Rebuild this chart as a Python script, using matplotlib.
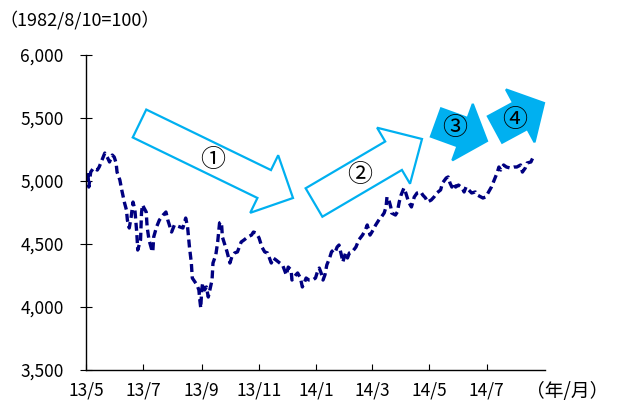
import numpy as np
import pandas as pd
import matplotlib
matplotlib.use("Agg")
import matplotlib.pyplot as plt
from matplotlib.patches import Polygon

plt.rcParams["font.family"] = ["Noto Sans CJK JP", "DejaVu Sans"]

# days after 2013/5/1 and index level
days = [2, 3, 5, 8, 12, 14, 17, 20, 23, 25, 28, 30, 32, 33, 36, 38, 41, 43, 44, 46,
        48, 50, 52, 54, 55, 58, 59, 60, 64, 65, 67, 70, 71, 72, 75, 78, 82, 85, 87, 91,
        94, 100, 103, 106, 108, 110, 112, 113, 118, 120, 121, 122, 123, 124, 126, 128, 130, 134, 135, 138,
        140, 142, 144, 145, 147, 150, 153, 155, 158, 161, 165, 168, 172, 176, 178, 181, 184, 187, 190, 193,
        197, 199, 202, 206, 209, 211, 213, 215, 218, 219, 223, 225, 228, 230, 232, 234, 237, 241, 244, 246,
        248, 250, 252, 254, 256, 259, 261, 263, 265, 267, 269, 272, 273, 276, 278, 280, 283, 287, 290, 294,
        297, 299, 302, 304, 308, 312, 314, 317, 319, 320, 322, 324, 325, 329, 331, 333, 335, 338, 340, 343,
        346, 349, 352, 356, 358, 361, 363, 367, 370, 373, 377, 379, 383, 385, 387, 389, 391, 393, 396, 400,
        402, 404, 407, 410, 414, 416, 420, 422, 425, 428, 431, 434, 437, 439, 441, 444, 447, 451, 455, 458,
        462, 464, 467, 469, 473, 475, 477]
index = [5063, 4952, 5071, 5103, 5087, 5111, 5167, 5222, 5183, 5151, 5206, 5190, 5143, 5071, 5008, 4929, 4825, 4770, 4690, 4627,
         4714, 4833, 4770, 4587, 4452, 4532, 4746, 4810, 4754, 4635, 4532, 4452, 4437, 4556, 4635, 4690, 4730, 4754, 4690, 4595,
         4651, 4635, 4627, 4706, 4635, 4476, 4349, 4230, 4175, 4135, 4056, 3992, 4135, 4190, 4135, 4159, 4079, 4214, 4349, 4413,
         4516, 4667, 4675, 4556, 4508, 4437, 4349, 4397, 4429, 4437, 4516, 4532, 4556, 4571, 4595, 4587, 4548, 4476, 4437, 4429,
         4349, 4389, 4373, 4349, 4333, 4294, 4254, 4317, 4294, 4214, 4254, 4270, 4230, 4159, 4190, 4230, 4214, 4214, 4230, 4278,
         4309, 4270, 4214, 4254, 4333, 4389, 4437, 4452, 4437, 4476, 4492, 4397, 4357, 4429, 4389, 4429, 4437, 4476, 4532, 4571,
         4611, 4651, 4571, 4595, 4651, 4698, 4714, 4746, 4794, 4873, 4849, 4794, 4746, 4730, 4754, 4833, 4889, 4944, 4905, 4833,
         4794, 4873, 4905, 4913, 4889, 4865, 4833, 4849, 4873, 4905, 4929, 4984, 5024, 5032, 4984, 4952, 4984, 4952, 4968, 4944,
         4913, 4952, 4929, 4905, 4913, 4889, 4873, 4865, 4873, 4913, 4952, 5008, 5063, 5111, 5087, 5127, 5111, 5103, 5111, 5111,
         5127, 5071, 5103, 5143, 5151, 5183, 5198]

tick_dates = ["2013-05-01", "2013-07-01", "2013-09-01", "2013-11-01",
              "2014-01-01", "2014-03-01", "2014-05-01", "2014-07-01"]
tick_labels = ["13/5", "13/7", "13/9", "13/11", "14/1", "14/3", "14/5", "14/7"]
y_ticks = [3500, 4000, 4500, 5000, 5500, 6000]

dates = pd.Timestamp("2013-05-01") + pd.to_timedelta(days, unit="D")

W, H = 619, 403
fig = plt.figure(figsize=(W / 100, H / 100), dpi=100)
ax = fig.add_axes([86 / W, 1 - 370 / H, (545 - 86) / W, (370 - 55) / H])

ax.plot(dates, index, color="#000080", lw=2.4, linestyle=(0, (2.4, 1.3)))

ax.set_xlim(pd.Timestamp("2013-05-01"), pd.Timestamp("2014-09-01"))
ax.set_ylim(3500, 6000)
ax.set_xticks(pd.to_datetime(tick_dates))
ax.set_xticklabels(tick_labels)
ax.set_yticks(y_ticks)
ax.set_yticklabels([f"{v:,}" for v in y_ticks])
ax.tick_params(axis="x", direction="in", length=4, width=0.8, pad=8, labelsize=12.5)
ax.tick_params(axis="y", direction="inout", length=8, width=0.8, pad=12, labelsize=12.5)
for s in ("top", "right"):
    ax.spines[s].set_visible(False)
for s in ("left", "bottom"):
    ax.spines[s].set_linewidth(1.0)

fig.text(-1 / W, 1 - 20 / H, "（1982/8/10=100）", fontsize=13, va="center", ha="left")
fig.text(526 / W, 1 - 392 / H, "（年/月）", fontsize=13.5, va="center", ha="left")


def arrow(tail, tip, shaft_w, head_w, head_len, filled):
    t = np.array(tail, float)
    p = np.array(tip, float)
    u = (p - t) / np.hypot(*(p - t))
    n = np.array([-u[1], u[0]])
    b = p - u * head_len
    pts = [t + n * shaft_w / 2, b + n * shaft_w / 2, b + n * head_w / 2, p,
           b - n * head_w / 2, b - n * shaft_w / 2, t - n * shaft_w / 2]
    pts = [(x / W, 1 - y / H) for x, y in pts]
    fig.patches.append(Polygon(pts, closed=True, transform=fig.transFigure,
                               facecolor="#00B0F0" if filled else "white",
                               edgecolor="#00B0F0", lw=1.6, zorder=5))


arrow((139.5, 123.5), (293, 198), 31, 64, 32, False)
arrow((314, 202.5), (422, 139), 33, 65, 33, False)
arrow((436, 122.5), (487, 141), 30, 60, 26, True)
arrow((495, 129.5), (544, 103), 30, 60, 27, True)

for label, (x, y) in zip(["①", "②", "③", "④"],
                         [(213, 160), (360, 175), (455, 128), (515, 120)]):
    fig.text(x / W, 1 - y / H, label, fontsize=18, ha="center", va="center", zorder=6)

fig.savefig("out.png", dpi=100)
